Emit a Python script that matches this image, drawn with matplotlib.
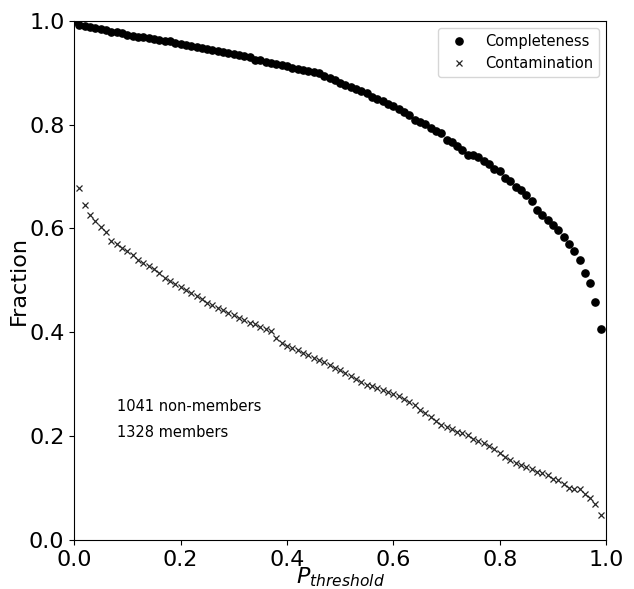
import numpy as np
import matplotlib
matplotlib.use("Agg")
import matplotlib.pyplot as plt

# probability thresholds
p_completeness = np.round(np.arange(0.0, 1.0, 0.01), 2)
p_contamination = np.round(np.arange(0.01, 1.0, 0.01), 2)

completeness = [
    1.000, 0.991, 0.989, 0.987, 0.985, 0.983, 0.981, 0.979, 0.978, 0.976,
    0.973, 0.971, 0.969, 0.968, 0.966, 0.965, 0.963, 0.961, 0.960, 0.957,
    0.955, 0.953, 0.952, 0.950, 0.948, 0.946, 0.944, 0.942, 0.940, 0.938,
    0.936, 0.933, 0.931, 0.929, 0.925, 0.924, 0.921, 0.918, 0.917, 0.914,
    0.912, 0.909, 0.907, 0.905, 0.903, 0.902, 0.900, 0.893, 0.889, 0.886,
    0.880, 0.877, 0.873, 0.869, 0.864, 0.860, 0.853, 0.849, 0.845, 0.840,
    0.836, 0.830, 0.825, 0.818, 0.809, 0.805, 0.801, 0.793, 0.788, 0.784,
    0.770, 0.766, 0.759, 0.751, 0.742, 0.741, 0.737, 0.730, 0.724, 0.715,
    0.710, 0.698, 0.691, 0.680, 0.674, 0.664, 0.652, 0.635, 0.626, 0.616,
    0.607, 0.597, 0.583, 0.570, 0.557, 0.540, 0.514, 0.494, 0.458, 0.407,
]

contamination = [
    0.678, 0.645, 0.626, 0.614, 0.603, 0.593, 0.575, 0.570, 0.562,
    0.556, 0.548, 0.539, 0.533, 0.528, 0.521, 0.514, 0.505, 0.498, 0.493,
    0.487, 0.481, 0.475, 0.469, 0.464, 0.457, 0.452, 0.447, 0.442, 0.437,
    0.433, 0.428, 0.423, 0.418, 0.416, 0.411, 0.407, 0.402, 0.389, 0.380,
    0.374, 0.369, 0.365, 0.361, 0.356, 0.351, 0.347, 0.342, 0.338, 0.332,
    0.327, 0.321, 0.315, 0.310, 0.304, 0.298, 0.296, 0.292, 0.288, 0.286,
    0.282, 0.277, 0.272, 0.266, 0.260, 0.250, 0.244, 0.237, 0.230, 0.221,
    0.217, 0.213, 0.209, 0.207, 0.202, 0.195, 0.190, 0.187, 0.182, 0.176,
    0.168, 0.160, 0.154, 0.149, 0.145, 0.141, 0.136, 0.132, 0.130, 0.125,
    0.118, 0.115, 0.108, 0.100, 0.098, 0.098, 0.088, 0.082, 0.069, 0.049,
]

n_nonmembers = 1041
n_members = 1328

fig = plt.figure(figsize=(6.34, 5.89), dpi=100)
ax = fig.add_axes([0.117, 0.083, 0.839, 0.882])

ax.plot(p_completeness, completeness, "o", color="k", markersize=5.2, label="Completeness")
ax.plot(p_contamination, contamination, "x", color="k", markersize=5,
        markeredgewidth=0.9, alpha=0.85, label="Contamination")

ax.text(0.08, 0.258, f"{n_nonmembers} non-members", fontsize=10.5, va="center")
ax.text(0.08, 0.208, f"{n_members} members", fontsize=10.5, va="center")

ax.set_xlim(0, 1)
ax.set_ylim(0, 1)
ax.set_xticks([0.0, 0.2, 0.4, 0.6, 0.8, 1.0])
ax.set_yticks([0.0, 0.2, 0.4, 0.6, 0.8, 1.0])
ax.tick_params(labelsize=16)
ax.set_xlabel("$P_{threshold}$", fontsize=16, labelpad=-3.5)
ax.set_ylabel("Fraction", fontsize=16, labelpad=0)
ax.legend(loc="upper right", fontsize=10.5)

fig.savefig("out.png", dpi=100)
